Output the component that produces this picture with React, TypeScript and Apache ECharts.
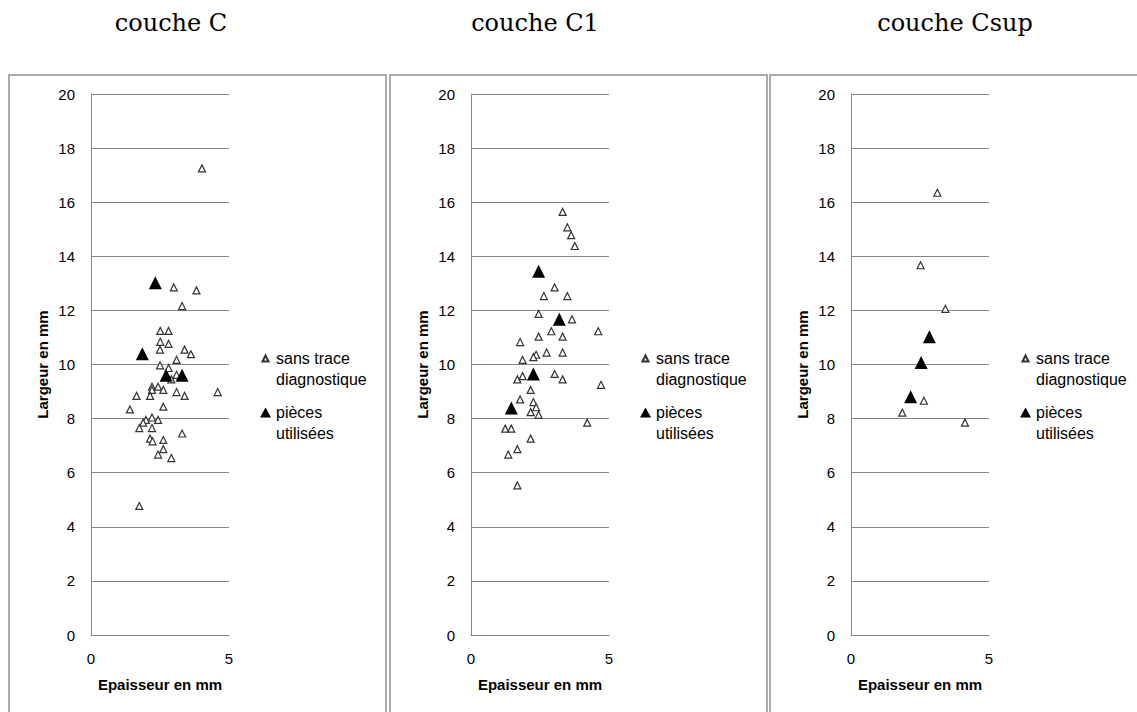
import React, { useEffect, useRef } from "react";
import * as echarts from "echarts";

const panelTitles = ["couche C", "couche C1", "couche Csup"];
const seriesNames = ["sans trace diagnostique", "pièces utilisées"];
const xTicks = [0, 5];

// couche C
const coucheC_sansTrace: number[][] = [
  [4.02, 17.25], [3.0, 12.85], [3.82, 12.74], [3.3, 12.16], [2.51, 11.24], [2.81, 11.24],
  [2.51, 10.84], [2.81, 10.76], [2.5, 10.55], [3.39, 10.55], [3.62, 10.38], [3.1, 10.17],
  [2.5, 9.97], [2.81, 9.87], [3.1, 9.62], [2.91, 9.45], [2.21, 9.18], [2.43, 9.18],
  [2.21, 9.06], [2.62, 9.06], [3.1, 8.98], [3.39, 8.84], [4.59, 8.98], [1.65, 8.84],
  [2.14, 8.84], [1.41, 8.34], [2.62, 8.44], [2.21, 8.04], [1.99, 7.95], [2.43, 7.95],
  [1.89, 7.85], [1.75, 7.65], [2.21, 7.65], [3.3, 7.45], [2.14, 7.26], [2.23, 7.16],
  [2.62, 7.21], [2.62, 6.87], [2.43, 6.67], [2.91, 6.54], [1.75, 4.77],
];
const coucheC_pieces: number[][] = [
  [2.33, 13.02], [1.86, 10.4], [2.72, 9.6], [3.3, 9.6],
];

// couche C1
const coucheC1_sansTrace: number[][] = [
  [3.32, 15.64], [3.49, 15.07], [3.63, 14.78], [3.76, 14.38], [3.03, 12.85], [2.64, 12.53],
  [3.49, 12.53], [2.45, 11.87], [3.66, 11.67], [2.91, 11.23], [4.61, 11.23], [2.45, 11.03],
  [3.32, 11.03], [1.78, 10.83], [2.74, 10.44], [3.32, 10.44], [2.36, 10.36], [2.26, 10.27],
  [1.87, 10.17], [1.68, 9.45], [1.87, 9.57], [3.03, 9.65], [3.32, 9.45], [4.71, 9.25],
  [2.16, 9.06], [1.78, 8.71], [2.26, 8.61], [2.36, 8.42], [2.16, 8.24], [2.45, 8.14],
  [4.21, 7.85], [1.24, 7.63], [1.46, 7.63], [2.16, 7.26], [1.68, 6.87], [1.35, 6.67],
  [1.68, 5.53],
];
const coucheC1_pieces: number[][] = [
  [2.45, 13.45], [3.2, 11.67], [2.26, 9.65], [1.46, 8.39],
];

// couche Csup
const coucheCsup_sansTrace: number[][] = [
  [3.13, 16.35], [2.52, 13.67], [3.42, 12.06], [2.64, 8.66], [1.86, 8.22], [4.13, 7.85],
];
const coucheCsup_pieces: number[][] = [
  [2.84, 11.03], [2.54, 10.07], [2.16, 8.81],
];

const panelData = [
  [coucheC_sansTrace, coucheC_pieces],
  [coucheC1_sansTrace, coucheC1_pieces],
  [coucheCsup_sansTrace, coucheCsup_pieces],
];

const FONT = "Liberation Sans";
// legend icons: triangle drawn in the upper part of a tall box so it lines up with the first text line
const ICON_OPEN = "path://M0,0L0.01,0M2.5,8.5L5.5,2.5L8.5,8.5Z M11,32L10.99,32";
const ICON_FILLED = "path://M0,0L0.01,0M0,10.5L5.5,0.5L11,10.5Z M11,32L10.99,32";

export default function App() {
  const ref = useRef<HTMLDivElement>(null);
  useEffect(() => {
    if (!ref.current) return;
    const chart = echarts.init(ref.current, undefined, { renderer: "svg" });
    const panelLeft = [91, 471, 851];
    const panelBox = [9, 390, 770];
    const titleX = [171, 535, 955];

    const grids = panelLeft.map((l) => ({ left: l, top: 94, width: 138, height: 541 }));
    const xAxes = panelLeft.map((_, i) => ({
      type: "value",
      gridIndex: i,
      min: 0,
      max: 5,
      interval: 5,
      name: "Epaisseur en mm",
      nameLocation: "middle",
      nameGap: 42,
      nameTextStyle: { fontFamily: FONT, fontSize: 15, fontWeight: "bold", color: "#000" },
      axisLine: { show: true, lineStyle: { color: "#888", width: 1 } },
      axisTick: { show: false },
      splitLine: { show: false },
      axisLabel: {
        margin: 16,
        fontFamily: FONT,
        fontSize: 15,
        color: "#000",
        formatter: (v: number) => (xTicks.includes(v) ? String(v) : ""),
      },
    }));
    const yAxes = panelLeft.map((_, i) => ({
      type: "value",
      gridIndex: i,
      min: 0,
      max: 20,
      interval: 2,
      name: "Largeur en mm",
      nameLocation: "middle",
      nameGap: 41,
      nameRotate: 90,
      nameTextStyle: { fontFamily: FONT, fontSize: 15, fontWeight: "bold", color: "#000" },
      axisLine: { show: true, lineStyle: { color: "#888", width: 1 } },
      axisTick: { show: false },
      splitLine: { show: true, lineStyle: { color: "#888", width: 1 } },
      axisLabel: { margin: 16, fontFamily: FONT, fontSize: 15, color: "#000" },
    }));

    const series: any[] = [];
    panelData.forEach((pd, i) => {
      series.push({
        type: "scatter",
        name: seriesNames[0],
        xAxisIndex: i,
        yAxisIndex: i,
        data: pd[0],
        symbol: "triangle",
        symbolSize: 7,
        itemStyle: { color: "#fff", borderColor: "#333", borderWidth: 1.2, opacity: 1 },
      });
      series.push({
        type: "scatter",
        name: seriesNames[1],
        xAxisIndex: i,
        yAxisIndex: i,
        data: pd[1],
        symbol: "triangle",
        symbolSize: 13,
        itemStyle: { color: "#000", opacity: 1 },
      });
    });

    const legends = panelLeft.map((l) => ({
      orient: "vertical",
      left: l + 168,
      top: 348,
      padding: 0,
      itemWidth: 11,
      itemHeight: 32,
      itemGap: 12,
      selectedMode: false,
      data: [
        { name: seriesNames[0], icon: ICON_OPEN },
        { name: seriesNames[1], icon: ICON_FILLED },
      ],
      formatter: (n: string) => (n === seriesNames[0] ? "sans trace\ndiagnostique" : "pièces\nutilisées"),
      textStyle: { fontFamily: FONT, fontSize: 16, color: "#000", lineHeight: 21 },
    }));

    const titles = titleX.map((x, i) => ({
      text: panelTitles[i],
      left: x - 5,
      top: 6,
      textAlign: "center",
      textStyle: { fontFamily: "DejaVu Serif", fontSize: 24, fontWeight: "normal", color: "#000" },
    }));

    const graphic = panelBox.map((x, i) => ({
      type: "rect",
      shape: { x: x, y: 75, width: i === 2 ? 380 : 377, height: 700 },
      style: { fill: "none", stroke: "#aaa", lineWidth: 2 },
      silent: true,
      z: -1,
    }));

    chart.setOption({
      animation: false,
      backgroundColor: "#fff",
      title: titles,
      grid: grids,
      xAxis: xAxes,
      yAxis: yAxes,
      legend: legends,
      series,
      graphic,
    } as any);
    return () => chart.dispose();
  }, []);
  return (
    <div
      ref={ref}
      style={{ position: "absolute", left: 0, top: 0, width: 1137, height: 712 }}
    />
  );
}
